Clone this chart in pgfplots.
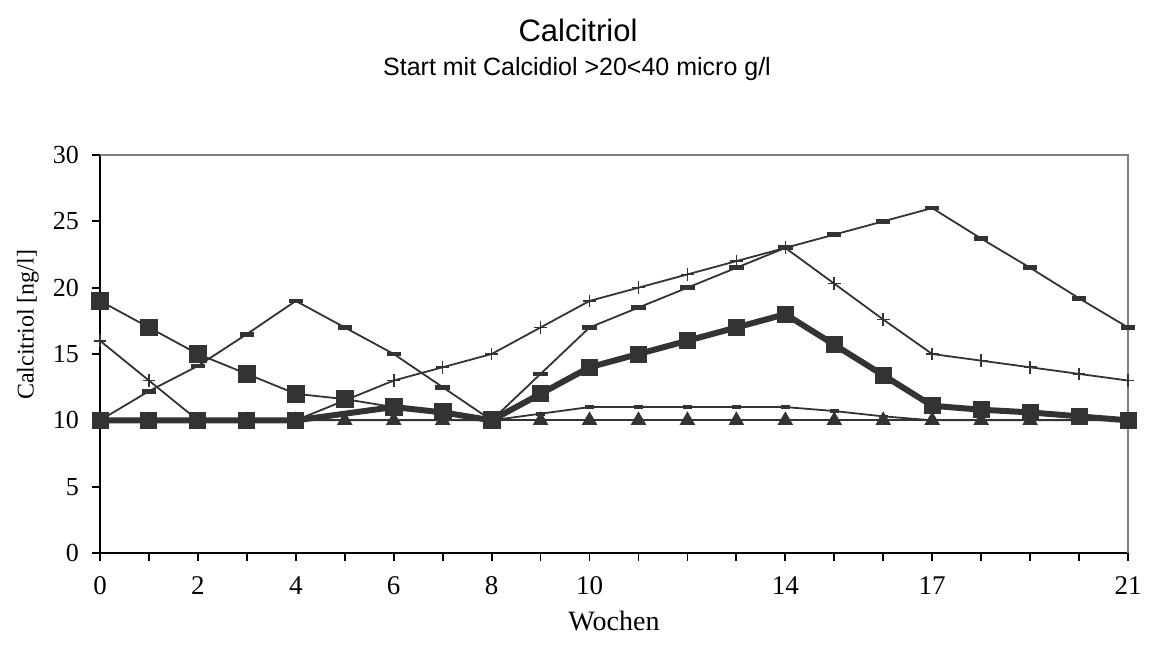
\documentclass[border=0pt]{standalone}
\usepackage{fontspec}
\setmainfont{Liberation Serif}
\newfontfamily\arial{Liberation Sans}
\usepackage{pgfplots}
\pgfplotsset{compat=1.18}
\definecolor{dk}{RGB}{51,51,51}
\definecolor{frame}{RGB}{128,128,128}

\begin{document}
\begin{tikzpicture}
% page frame: 576pt x 333pt
\path[use as bounding box] (0,0) rectangle (576pt,333pt);

\node[font=\arial\fontsize{15.5}{18}\selectfont] at (289pt,318pt) {Calcitriol};
\node[font=\arial\fontsize{12.5}{15}\selectfont] at (288.5pt,298.5pt) {Start mit Calcidiol >20<40 micro g/l};

\begin{axis}[
  at={(50pt,56.5pt)}, anchor=south west,
  scale only axis, width=514pt, height=199pt,
  xmin=0, xmax=21, ymin=0, ymax=30,
  axis x line*=bottom, axis y line*=left,
  axis line style={black, line width=0.9pt},
  xtick={0,...,21},
  xticklabels={0,,2,,4,,6,,8,,10,,,,14,,,17,,,,21},
  ytick={0,5,...,30},
  tick style={black, line width=0.9pt},
  tick align=outside,
  major tick length=4pt,
  /pgf/number format/assume math mode=true,
  xticklabel style={font=\fontsize{13.5}{15}\selectfont, anchor=base, yshift=-16.5pt},
  yticklabel style={font=\fontsize{13}{15}\selectfont, xshift=-3pt},
  clip=false,
  every axis plot/.append style={color=dk},
]

% series on the baseline (triangles)
\addplot[line width=0.9pt, mark=triangle*, mark size=3.6pt, mark options={solid}]
coordinates {(0,10)(1,10)(2,10)(3,10)(4,10)(5,10)(6,10)(7,10)(8,10)(9,10)(10,10)(11,10)(12,10)(13,10)(14,10)(15,10)(16,10)(17,10)(18,10)(19,10)(20,10)(21,10)};

% small dashes
\addplot[line width=0.9pt, mark=-, mark size=2.2pt, mark options={line width=1.8pt}]
coordinates {(0,10)(1,10)(2,10)(3,10)(4,10)(5,10)(6,10)(7,10)(8,10)(9,10.5)(10,11)(11,11)(12,11)(13,11)(14,11)(15,10.7)(16,10.3)(17,10)(18,10)(19,10)(20,10)(21,10)};

% crosses
\addplot[line width=0.9pt, mark=+, mark size=3.2pt, mark options={line width=0.8pt}]
coordinates {(0,16)(1,13)(2,10)(3,10)(4,10)(5,11.5)(6,13)(7,14)(8,15)(9,17)(10,19)(11,20)(12,21)(13,22)(14,23)(15,20.3)(16,17.6)(17,15)(18,14.5)(19,14)(20,13.5)(21,13)};

% large dashes
\addplot[line width=0.9pt, mark=-, mark size=3.6pt, mark options={line width=2.4pt}]
coordinates {(0,10)(1,12.2)(2,14.1)(3,16.5)(4,19)(5,17)(6,15)(7,12.5)(8,10)(9,13.5)(10,17)(11,18.5)(12,20)(13,21.5)(14,23)(15,24)(16,25)(17,26)(18,23.7)(19,21.5)(20,19.2)(21,17)};

% thin squares
\addplot[line width=0.9pt, mark=square*, mark size=4pt]
coordinates {(0,19)(1,17)(2,15)(3,13.5)(4,12)(5,11.6)(6,11)(7,10.6)(8,10)};

% thick squares
\addplot[line width=3pt, mark=square*, mark size=4pt, mark options={line width=0.5pt}]
coordinates {(0,10)(1,10)(2,10)(3,10)(4,10)(6,11)(7,10.6)(8,10)(9,12)(10,14)(11,15)(12,16)(13,17)(14,18)(15,15.7)(16,13.4)(17,11.1)(18,10.8)(19,10.6)(20,10.3)(21,10)};

% grey upper and right border of the plot area
\draw[frame, line width=0.9pt] (rel axis cs:0,1) -- (rel axis cs:1,1) -- (rel axis cs:1,0);
\end{axis}

\node[font=\fontsize{14}{16}\selectfont] at (307pt,22.5pt) {Wochen};
\node[font=\fontsize{12}{14}\selectfont, rotate=90] at (14pt,170.5pt) {Calcitriol [ng/l]};
\end{tikzpicture}
\end{document}
